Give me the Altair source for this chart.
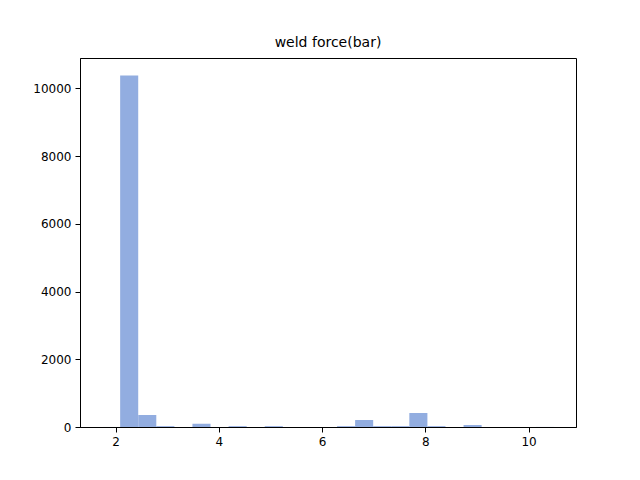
import altair as alt
import pandas as pd

bin_start = 1.74
bin_width = 0.35
counts = [1, 10380, 354, 25, 0, 97, 0, 25, 0, 25, 0, 0, 0, 25, 206, 25, 25, 413, 25, 0, 59, 0, 0, 0, 2]

df = pd.DataFrame({
    "lo": [bin_start + i * bin_width for i in range(len(counts))],
    "hi": [bin_start + (i + 1) * bin_width for i in range(len(counts))],
    "count": counts,
})
df = df[df["count"] > 0]

chart = (
    alt.Chart(df)
    .mark_bar(color="#92ADE0")
    .encode(
        x=alt.X("lo:Q", scale=alt.Scale(domain=[1.3125, 10.9175], nice=False, zero=False),
                axis=alt.Axis(values=[2, 4, 6, 8, 10], title=None, grid=False)),
        x2="hi:Q",
        y=alt.Y("count:Q", scale=alt.Scale(domain=[0, 10899], nice=False),
                axis=alt.Axis(values=[0, 2000, 4000, 6000, 8000, 10000], format="d",
                              title=None, grid=False)),
        y2=alt.datum(0),
    )
    .properties(
        width=496, height=369,
        title=alt.TitleParams("weld force(bar)", fontSize=14, fontWeight="normal",
                              font="DejaVu Sans", offset=8),
        padding={"left": 72, "top": 50, "right": 56, "bottom": 45},
        autosize=alt.AutoSizeParams(type="none"),
    )
    .configure_axis(labelFont="DejaVu Sans", labelFontSize=12, labelColor="black",
                    domainColor="black", tickColor="black", labelPadding=4)
    .configure_view(stroke="black")
)

chart.save("out.html", embed_options={"renderer": "svg", "actions": False})
